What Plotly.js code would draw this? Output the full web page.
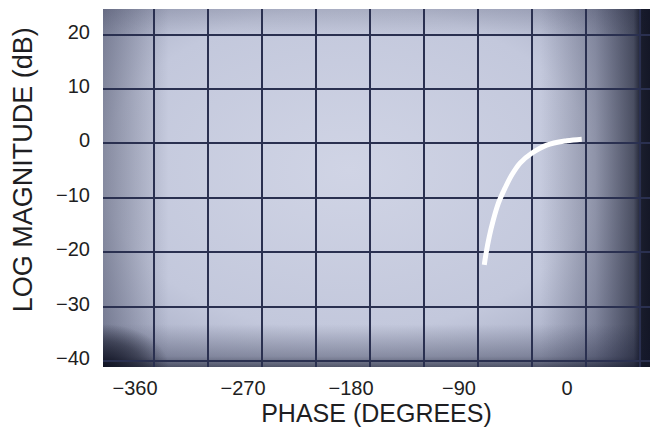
<!DOCTYPE html>
<html>
<head>
<meta charset="utf-8">
<script src="https://cdn.plot.ly/plotly-3.0.1.min.js"></script>
<style>html,body{margin:0;padding:0;background:#fff;}#chart{width:650px;height:428px;}</style>
</head>
<body>
<div id="chart"></div>
<script>
// Trace (Nichols plot)
var phaseDeg = [-3.6, -16.1, -32.8, -45.3, -55.0, -61.9, -67.5, -73.1, -77.3, -80.6, -83.3, -84.8];
var magDb    = [0.8, 0.5, -0.3, -1.8, -3.6, -5.8, -8.2, -11.0, -14.1, -17.1, -20.2, -22.3];
var xTickVals = [-360, -270, -180, -90, 0];
var xTickText = ['\u2212360', '\u2212270', '\u2212180', '\u221290', '0'];
var yTickVals = [20, 10, 0, -10, -20, -30, -40];
var yTickText = ['20', '10', '0', '\u221210', '\u221220', '\u221230', '\u221240'];

var svg = "<svg xmlns='http://www.w3.org/2000/svg' width='547' height='358' viewBox='0 0 547 358' preserveAspectRatio='none'>" +
 "<defs>" +
 "<radialGradient id='r' cx='0.45' cy='0.45' r='0.75'>" +
 "<stop offset='0' stop-color='#d0d4e5'/><stop offset='0.6' stop-color='#c3c8dc'/><stop offset='1' stop-color='#9aa0b9'/>" +
 "</radialGradient>" +
 "<linearGradient id='h' x1='0' y1='0' x2='1' y2='0'>" +
 "<stop offset='0' stop-color='#141830' stop-opacity='0.35'/><stop offset='0.12' stop-color='#141830' stop-opacity='0'/>" +
 "<stop offset='0.8' stop-color='#141830' stop-opacity='0'/><stop offset='0.9' stop-color='#141830' stop-opacity='0.3'/>" +
 "<stop offset='0.97' stop-color='#101426' stop-opacity='0.65'/><stop offset='0.985' stop-color='#0c0f1e' stop-opacity='0.92'/><stop offset='1' stop-color='#0c0f1e' stop-opacity='0.95'/>" +
 "</linearGradient>" +
 "<linearGradient id='v' x1='0' y1='0' x2='0' y2='1'>" +
 "<stop offset='0' stop-color='#141830' stop-opacity='0.15'/><stop offset='0.08' stop-color='#141830' stop-opacity='0'/>" +
 "<stop offset='0.88' stop-color='#141830' stop-opacity='0'/><stop offset='0.97' stop-color='#141830' stop-opacity='0.3'/><stop offset='1' stop-color='#101426' stop-opacity='0.6'/>" +
 "</linearGradient>" +
 "<radialGradient id='c' cx='0' cy='1' r='0.12'>" +
 "<stop offset='0' stop-color='#0c0f1e' stop-opacity='0.9'/><stop offset='0.6' stop-color='#0c0f1e' stop-opacity='0.45'/><stop offset='1' stop-color='#0c0f1e' stop-opacity='0'/>" +
 "</radialGradient>" +
 "</defs>" +
 "<rect width='547' height='358' fill='url(#r)'/>" +
 "<rect width='547' height='358' fill='url(#h)'/>" +
 "<rect width='547' height='358' fill='url(#v)'/>" +
 "<rect width='547' height='358' fill='url(#c)'/>" +
 "</svg>";
var bgSrc = 'data:image/svg+xml;charset=utf-8,' + encodeURIComponent(svg);

var FONT = 'Liberation Sans, Arial, sans-serif';
var gridCol = '#2a3050';

var traces = [{
  x: phaseDeg, y: magDb, type: 'scatter', mode: 'lines',
  line: {color: '#ffffff', width: 5, shape: 'spline'},
  hoverinfo: 'skip'
}];

var layout = {
  width: 650, height: 428,
  margin: {l: 103, r: 0, t: 9, b: 61, pad: 0},
  paper_bgcolor: '#ffffff',
  plot_bgcolor: 'rgba(0,0,0,0)',
  showlegend: false,
  images: [{source: bgSrc, xref: 'paper', yref: 'paper', x: 0, y: 1, sizex: 1, sizey: 1,
            sizing: 'stretch', xanchor: 'left', yanchor: 'top', layer: 'below'}],
  xaxis: {
    range: [-402.5, 53.3], tickmode: 'array', tickvals: xTickVals, ticktext: xTickText,
    showgrid: true, gridcolor: gridCol, gridwidth: 2, zeroline: false,
    minor: {dtick: 45, tick0: 0, showgrid: true, gridcolor: gridCol, gridwidth: 2, ticks: ''},
    ticks: '', showline: false, ticklabelshift: -19, ticklabelstandoff: 7,
    tickfont: {family: FONT, size: 20, color: '#1e1e22'},
    title: {text: 'PHASE (DEGREES)', font: {family: FONT, size: 25, color: '#1e1e22'}, standoff: 6},
    fixedrange: true
  },
  yaxis: {
    range: [-41.08, 24.72], tickmode: 'array', tickvals: yTickVals, ticktext: yTickText,
    showgrid: true, gridcolor: gridCol, gridwidth: 2, zeroline: false,
    ticks: '', showline: false, ticklabelshift: -3, ticklabelstandoff: 12,
    tickfont: {family: FONT, size: 20, color: '#1e1e22'},
    fixedrange: true
  },
  annotations: [{
    text: 'LOG MAGNITUDE (dB)', xref: 'paper', yref: 'paper',
    x: -0.146, y: 0.55, xanchor: 'center', yanchor: 'middle', textangle: -90,
    showarrow: false, font: {family: FONT, size: 27, color: '#1e1e22'}
  }]
};

Plotly.newPlot('chart', traces, layout, {staticPlot: true, displayModeBar: false});
</script>
</body>
</html>
